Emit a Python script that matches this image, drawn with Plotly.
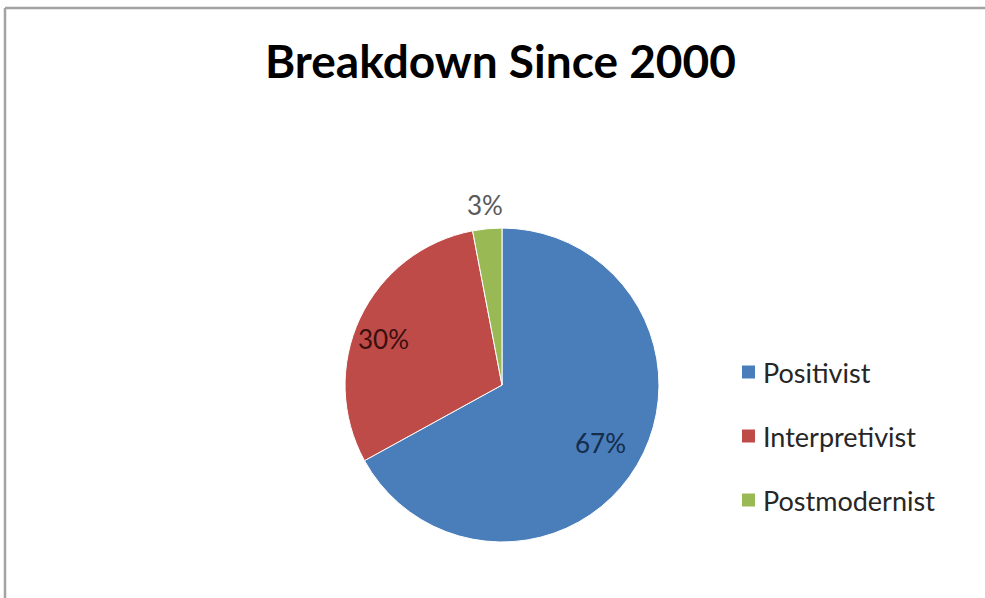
import math
import plotly.graph_objects as go

# Share of research approaches since 2000
labels = ["Positivist", "Interpretivist", "Postmodernist"]
shares = [67, 30, 3]
slice_colors = ["#4A7EBB", "#BE4B48", "#98B954"]
label_colors = ["#152c4a", "#3a0f0e", "#595959"]

FONT = "Lato"
W, H = 985, 598

# Pie placement (paper fractions)
dom_x = [0.3503, 0.6690]
dom_y = [0.0936, 0.6187]
# Distance of each value label from the centre (fraction of radius) and
# a small angular nudge in degrees
label_radius = [0.73, 0.81]
label_nudge = [0.0, -4.0]

fig = go.Figure()
fig.add_trace(go.Pie(
    labels=labels,
    values=shares,
    sort=False,
    direction="clockwise",
    rotation=0,
    marker=dict(colors=slice_colors, line=dict(color="#ffffff", width=1)),
    textinfo="none",
    hoverinfo="label+percent",
    showlegend=False,
    domain=dict(x=dom_x, y=dom_y),
))

# Value labels placed along each slice's bisector
cx = (dom_x[0] + dom_x[1]) / 2
cy = (dom_y[0] + dom_y[1]) / 2
radius_px = min((dom_x[1] - dom_x[0]) * W, (dom_y[1] - dom_y[0]) * H) / 2
total = sum(shares)
start = 0.0
radii = label_radius + [1.15]
nudges = label_nudge + [0.0]
for v, col, rf, dn in zip(shares, label_colors, radii, nudges):
    mid = (start + v / 2) / total * 2 * math.pi + math.radians(dn)
    start += v
    x = cx + rf * radius_px * math.sin(mid) / W
    y = cy + rf * radius_px * math.cos(mid) / H
    fig.add_annotation(xref="paper", yref="paper", x=x, y=y,
                       text=f"{v}%", showarrow=False,
                       xanchor="center", yanchor="middle",
                       font=dict(family=FONT, size=26, color=col))

# Legend: colour swatches with category names, stacked on the right
legend_x = 742 / W
legend_top = 372
legend_step = 64
swatch = 13
for i, (name, col) in enumerate(zip(labels, slice_colors)):
    yc = 1 - (legend_top + i * legend_step) / H
    h = swatch / H
    fig.add_shape(type="rect", xref="paper", yref="paper",
                  x0=legend_x, x1=legend_x + swatch / W,
                  y0=yc - h / 2, y1=yc + h / 2,
                  fillcolor=col, line=dict(width=0))
    fig.add_annotation(xref="paper", yref="paper", x=legend_x + 19 / W, y=yc,
                       text=name, showarrow=False, xanchor="left", yanchor="middle",
                       font=dict(family=FONT, size=27, color="#262626"))

# Chart frame (top and left edges)
frame = dict(color="#a3a3a3", width=2.5)
fig.add_shape(type="line", xref="paper", yref="paper",
              x0=5 / W, x1=1.0, y0=1 - 8 / H, y1=1 - 8 / H, line=frame)
fig.add_shape(type="line", xref="paper", yref="paper",
              x0=5 / W, x1=5 / W, y0=0.0, y1=1 - 8 / H, line=frame)

fig.update_layout(
    width=W, height=H,
    margin=dict(l=0, r=0, t=0, b=0),
    paper_bgcolor="#ffffff",
    plot_bgcolor="#ffffff",
    title=dict(text="<b>Breakdown Since 2000</b>", x=0.508, xanchor="center",
               y=1 - 62 / H, yanchor="middle",
               font=dict(family=FONT, size=46, color="#000000")),
)

fig.write_html("out.html")
